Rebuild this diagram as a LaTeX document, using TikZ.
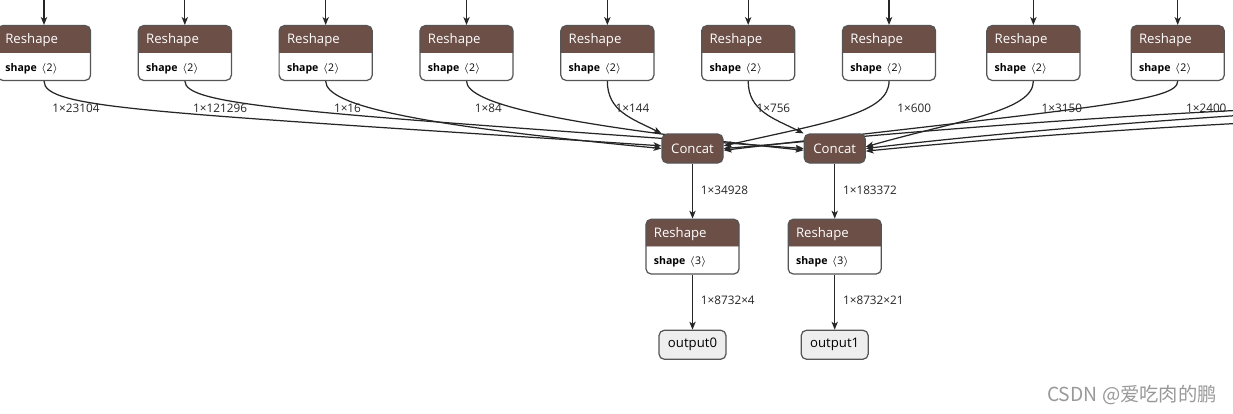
\documentclass[tikz,border=0pt]{standalone}
\usepackage{fontspec}
\setmainfont{Open Sans}
\newfontfamily\cjkfont{Noto Sans CJK SC}
\usetikzlibrary{
	positioning,
	arrows.meta,
	shapes.multipart,
	backgrounds
}
\definecolor{shapebrown}{RGB}{108,79,71}
\definecolor{nodeline}{RGB}{85,85,85}
\definecolor{outfill}{RGB}{238,238,238}
\newcommand{\shapeattr}[1]{\color{black}\fontsize{6}{7}\selectfont\textbf{shape} $\langle$#1$\rangle$}

\begin{document}
\begin{tikzpicture}[
			x=0.02cm,
			y=0.02cm,
			node distance=1.1cm,
			reshape/.style={
				rectangle split,
				rectangle split parts=2,
				rectangle split part fill={shapebrown,white},
				rectangle split part align={left},
				rectangle split draw splits=false,
				draw=nodeline,
				line width=0.7pt,
				rounded corners=3pt,
				text width=44pt,
				align=left,
				inner xsep=4.5pt,
				inner ysep=3.2pt,
				text=white,
				execute at begin node={\rule[-1.8pt]{0pt}{8.5pt}},
				font=\fontsize{7.5}{9}\selectfont
			},
			concat/.style={
				draw=nodeline,
				fill=shapebrown,
				line width=0.7pt,
				rounded corners=3pt,
				text=white,
				minimum width=1.22cm,
				minimum height=0.58cm,
				font=\fontsize{7.5}{9}\selectfont
			},
			outnode/.style={
				draw=nodeline,
				fill=outfill,
				line width=0.7pt,
				rounded corners=3pt,
				minimum width=1.34cm,
				minimum height=0.58cm,
				font=\fontsize{7.5}{9}\selectfont
			},
			dimlabel/.style={
				anchor=west,
				inner sep=0pt,
				text=black!85,
				font=\fontsize{6.7}{8}\selectfont
			},
			wmtext/.style={
				text=black!40,
				font=\cjkfont\fontsize{11}{13}\selectfont
			},
			flow/.style={
				draw=black!85,
				line width=0.7pt,
				-{Stealth[length=4.5pt,width=3.6pt,inset=1.2pt]}
			}
			]
			
			\useasboundingbox (0,0) rectangle (1233,-413);
			
			% top row
			\node[reshape] (r1) at (44,-53)
			{Reshape\nodepart{two}\shapeattr{2}};
			
			\node[reshape,right=0.93cm of r1] (r2)
			{Reshape\nodepart{two}\shapeattr{2}};
			
			\node[reshape,right=0.93cm of r2] (r3)
			{Reshape\nodepart{two}\shapeattr{2}};
			
			\node[reshape,right=0.93cm of r3] (r4)
			{Reshape\nodepart{two}\shapeattr{2}};
			
			\node[reshape,right=0.93cm of r4] (r5)
			{Reshape\nodepart{two}\shapeattr{2}};
			
			\node[reshape,right=0.93cm of r5] (r6)
			{Reshape\nodepart{two}\shapeattr{2}};
			
			\node[reshape,right=0.93cm of r6] (r7)
			{Reshape\nodepart{two}\shapeattr{2}};
			
			\node[reshape,right=1cm of r7] (r8)
			{Reshape\nodepart{two}\shapeattr{2}};
			
			\node[reshape,right=1cm of r8] (r9)
			{Reshape\nodepart{two}\shapeattr{2}};
			
			% concat and outputs
			\node[concat] (c1) at (692.5,-148.5) {Concat};
			\node[concat,right=1.6cm of c1] (c2) {Concat};
			
			\node[reshape,below=of c1] (rb1)
			{Reshape\nodepart{two}\shapeattr{3}};
			\node[reshape,below=of c2] (rb2)
			{Reshape\nodepart{two}\shapeattr{3}};
			
			\node[outnode,below=of rb1] (o1) {output0};
			\node[outnode,below=of rb2] (o2) {output1};
			
			% labels
			\node[dimlabel] (l1) at ([xshift=0.16cm,yshift=-0.54cm]r1.south) {1×23104};
			\node[dimlabel] (l2) at ([xshift=0.16cm,yshift=-0.54cm]r2.south) {1×121296};
			\node[dimlabel] (l3) at ([xshift=0.16cm,yshift=-0.54cm]r3.south) {1×16};
			\node[dimlabel] (l4) at ([xshift=0.16cm,yshift=-0.54cm]r4.south) {1×84};
			\node[dimlabel] (l5) at ([xshift=0.16cm,yshift=-0.54cm]r5.south) {1×144};
			\node[dimlabel] (l6) at ([xshift=0.16cm,yshift=-0.54cm]r6.south) {1×756};
			\node[dimlabel] (l7) at ([xshift=0.16cm,yshift=-0.54cm]r7.south) {1×600};
			\node[dimlabel] (l8) at ([xshift=0.16cm,yshift=-0.54cm]r8.south) {1×3150};
			\node[dimlabel] (l9) at ([xshift=0.16cm,yshift=-0.54cm]r9.south) {1×2400};
			\node[dimlabel] (lc1) at ([xshift=0.16cm,yshift=-0.54cm]c1.south) {1×34928};
			\node[dimlabel] (lc2) at ([xshift=0.16cm,yshift=-0.54cm]c2.south) {1×183372};
			\node[dimlabel] (lo1) at ([xshift=0.16cm,yshift=-0.52cm]rb1.south) {1×8732×4};
			\node[dimlabel] (lo2) at ([xshift=0.16cm,yshift=-0.52cm]rb2.south) {1×8732×21};
			
			\node[wmtext] (wm) at (1132,-395) {CSDN @爱吃肉的鹏};
			
			% free ends outside the view
			\coordinate[above=0.6cm of r1.north] (t1);
			\coordinate[above=0.6cm of r2.north] (t2);
			\coordinate[above=0.6cm of r3.north] (t3);
			\coordinate[above=0.6cm of r4.north] (t4);
			\coordinate[above=0.6cm of r5.north] (t5);
			\coordinate[above=0.6cm of r6.north] (t6);
			\coordinate[above=0.6cm of r7.north] (t7);
			\coordinate[above=0.6cm of r8.north] (t8);
			\coordinate[above=0.6cm of r9.north] (t9);
			\coordinate (f1) at (1245,-110);
			\coordinate (f2) at (1245,-115);
			\coordinate (f3) at (1245,-123);
			
			\begin{scope}[on background layer]
			\fill[white] (0,0) rectangle (1233,-413);
			
			\draw[flow] (t1)--(r1.north);
			\draw[flow] (t2)--(r2.north);
			\draw[flow] (t3)--(r3.north);
			\draw[flow] (t4)--(r4.north);
			\draw[flow] (t5)--(r5.north);
			\draw[flow] (t6)--(r6.north);
			\draw[flow] (t7)--(r7.north);
			\draw[flow] (t8)--(r8.north);
			\draw[flow] (t9)--(r9.north);
			
			\draw[flow] (r1.south) .. controls +(0,-28) and +(-512,34) .. ([yshift=1.5pt]c1.west);
			\draw[flow] (r2.south) .. controls +(0,-25) and +(-503,36) .. (c2.west);
			\draw[flow] (r3.south) .. controls +(0,-25) and +(-242,23) .. (c1.west);
			\draw[flow] (r4.south) .. controls +(0,-23) and +(-243,25) .. ([yshift=-1pt]c2.west);
			\draw[flow] (r5.south) .. controls +(0,-30) and +(-30,15) .. (c1.north west);
			\draw[flow] (r6.south) .. controls +(0,-30) and +(-30,15) .. (c2.north west);
			\draw[flow] (r7.south) .. controls +(0,-32) and +(107,24) .. ([yshift=1.5pt]c1.east);
			\draw[flow] (r8.south) .. controls +(0,-30) and +(95,27) .. ([yshift=1pt]c2.east);
			\draw[flow] (r9.south) .. controls +(0,-20) and +(377,44) .. ([yshift=-1pt]c1.east);
			\draw[flow] (f1) .. controls +(-245,-12) and +(77,6) .. (c1.east);
			\draw[flow] (f2) .. controls +(-150,-10) and +(100,12) .. (c2.east);
			\draw[flow] (f3) .. controls +(-150,-8) and +(100,10) .. ([yshift=-1.5pt]c2.east);
			
			\draw[flow] (c1)--(rb1);
			\draw[flow] (c2)--(rb2);
			\draw[flow] (rb1)--(o1);
			\draw[flow] (rb2)--(o2);
			\end{scope}
			
		\end{tikzpicture}
\end{document}
